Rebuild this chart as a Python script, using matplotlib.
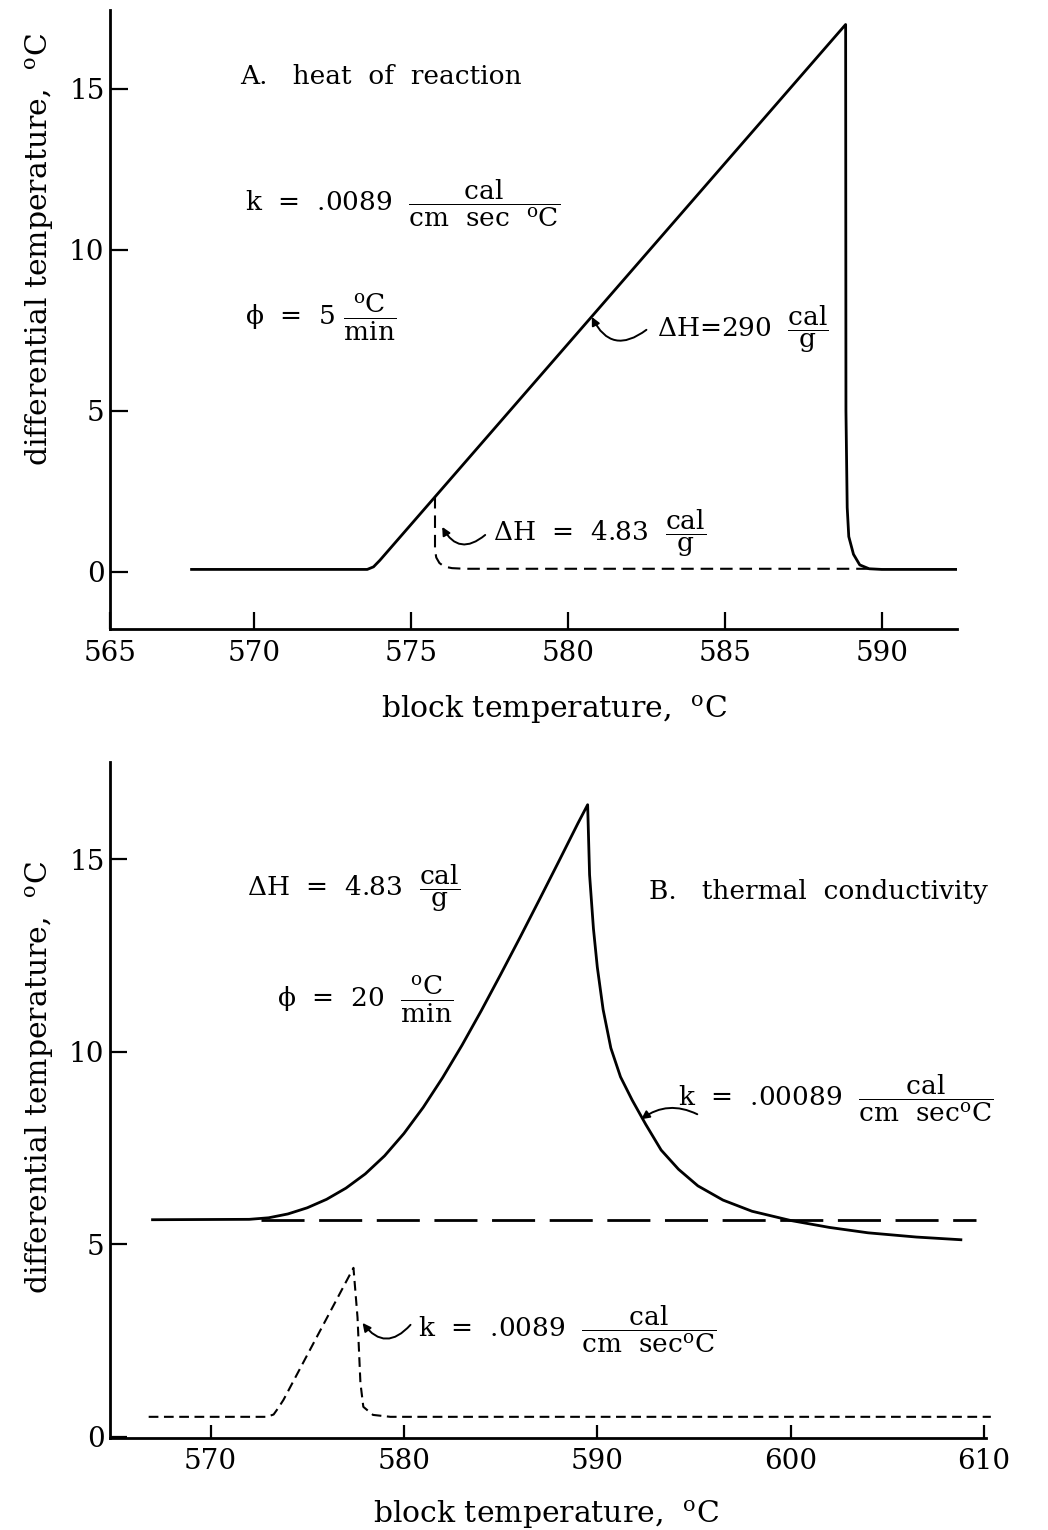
import matplotlib
matplotlib.use('Agg')
import matplotlib.pyplot as plt

plt.rcParams['font.family'] = ['DejaVu Serif']
plt.rcParams['mathtext.fontset'] = 'dejavuserif'
plt.rcParams['lines.scale_dashes'] = False

# ---------------- Panel A: heat of reaction ----------------
a_xticks = [565, 570, 575, 580, 585, 590]
a_yticks = [0, 5, 10, 15]
# Delta H = 290 cal/g (solid)
a_solid_x = [568.0, 573.6, 573.8, 574.0, 588.85, 588.86, 588.9, 588.95, 589.1, 589.3, 589.6, 590.0, 592.4]
a_solid_y = [0.08, 0.08, 0.16, 0.36, 17.0, 5.0, 2.0, 1.1, 0.55, 0.22, 0.1, 0.08, 0.08]
# Delta H = 4.83 cal/g (dashed)
a_dash_x = [575.76, 575.76, 575.8, 575.9, 576.05, 576.3, 576.7, 589.6]
a_dash_y = [2.36, 0.7, 0.45, 0.28, 0.17, 0.12, 0.1, 0.1]

# ---------------- Panel B: thermal conductivity ----------------
b_xticks = [570, 580, 590, 600, 610]
b_yticks = [0, 5, 10, 15]
# k = .00089 (solid)
b_solid_x = [567.0, 572.0, 573.0, 574.0, 575.0, 576.0, 577.0, 578.0, 579.0, 580.0, 581.0,
             582.0, 583.0, 584.0, 585.0, 586.0, 587.0, 588.0, 589.0, 589.5,
             589.6, 589.8, 590.0, 590.3, 590.7, 591.2, 591.8, 592.5, 593.3, 594.2,
             595.2, 596.5, 598.0, 600.0, 602.0, 604.0, 606.5, 608.8]
b_solid_y = [5.64, 5.65, 5.69, 5.79, 5.95, 6.17, 6.46, 6.83, 7.30, 7.88, 8.56,
             9.33, 10.17, 11.07, 12.01, 12.97, 13.95, 14.94, 15.94, 16.42,
             14.6, 13.2, 12.2, 11.1, 10.1, 9.35, 8.75, 8.12, 7.45, 6.95,
             6.52, 6.15, 5.86, 5.62, 5.44, 5.30, 5.19, 5.12]
# baseline (long dashes)
b_base_x = [572.6, 609.6]
b_base_y = [5.64, 5.64]
# k = .0089 (short dashes)
b_dash_x = [566.8, 572.9, 573.26, 573.5, 573.77, 575.5, 577.39, 577.6, 577.75, 577.9, 578.4, 579.3, 610.35]
b_dash_y = [0.52, 0.52, 0.58, 0.75, 0.96, 2.6, 4.39, 3.1, 1.4, 0.78, 0.57, 0.52, 0.52]

W, H = 1048, 1530
fig = plt.figure(figsize=(W / 100, H / 100), dpi=100)

def px_axes(left, top, right, bottom):
    return fig.add_axes([left / W, 1 - bottom / H, (right - left) / W, (bottom - top) / H])

axA = px_axes(110, 10, 957, 629)
axB = px_axes(110, 762, 986, 1438)

deg = r'${}^{\mathrm{o}}$C'
ylabel = 'differential temperature,  ' + deg
xlabel = 'block temperature,  ' + deg
LAB = 21.5
TICK = 20
ANN = 19

def style(ax, xlen, ylen, xpad):
    for s in ['top', 'right']:
        ax.spines[s].set_visible(False)
    for s in ['left', 'bottom']:
        ax.spines[s].set_linewidth(2.0)
    ax.tick_params(axis='x', direction='in', length=xlen, width=1.6, labelsize=TICK, pad=xpad)
    ax.tick_params(axis='y', direction='in', length=ylen, width=1.6, labelsize=TICK, pad=4)

frac_cal_g = r'$\dfrac{\mathrm{cal}}{\mathrm{g}}$'
frac_deg_min = r'$\dfrac{{}^{\mathrm{o}}\mathrm{C}}{\mathrm{min}}$'
frac_k1 = r'$\dfrac{\mathrm{cal}}{\mathrm{cm\ \ sec\ \ }{}^{\mathrm{o}}\mathrm{C}}$'
frac_k2 = r'$\dfrac{\mathrm{cal}}{\mathrm{cm\ \ sec}{}^{\mathrm{o}}\mathrm{C}}$'

# ----- Panel A -----
xminA, xmaxA = 565.4, 592.4
axA.set_xlim(xminA, xmaxA)
axA.set_ylim(-1.77, 17.45)
axA.plot(a_solid_x, a_solid_y, color='black', lw=2.0, solid_joinstyle='round')
axA.plot(a_dash_x, a_dash_y, color='black', lw=1.5, dashes=(9, 5))
axA.set_xticks([xminA] + a_xticks[1:])
axA.set_xticklabels([str(t) for t in a_xticks])
axA.set_yticks(a_yticks)
axA.set_yticklabels([str(t) for t in a_yticks])
style(axA, 12, 13, 8)

axA.set_ylabel(ylabel, fontsize=LAB, rotation=90, ha='center', va='center')
axA.yaxis.set_label_coords(-0.083, 0.614)
axA.set_xlabel(xlabel, fontsize=LAB, ha='center', va='top')
axA.xaxis.set_label_coords(0.524, -0.105)

axA.text(569.55, 15.37, 'A.   heat  of  reaction', fontsize=ANN, ha='left', va='center')
axA.text(569.71, 11.46, 'k  =  .0089  ' + frac_k1, fontsize=ANN, ha='left', va='center')
axA.text(569.71, 7.92, 'ϕ  =  5 ' + frac_deg_min, fontsize=ANN, ha='left', va='center')
axA.text(582.83, 7.52, 'ΔH=290  ' + frac_cal_g, fontsize=ANN, ha='left', va='center')
axA.text(577.6, 1.21, 'ΔH  =  4.83  ' + frac_cal_g, fontsize=ANN, ha='left', va='center')

arrow = dict(arrowstyle='-|>', connectionstyle='arc3,rad=-0.6', lw=1.4, color='black',
             shrinkA=0, shrinkB=0, mutation_scale=12)
axA.annotate('', xy=(580.76, 7.92), xytext=(582.5, 7.52), arrowprops=arrow)
axA.annotate('', xy=(575.99, 1.40), xytext=(577.36, 1.15), arrowprops=arrow)

# ----- Panel B -----
axB.set_xlim(564.8, 610.1)
axB.set_ylim(-0.03, 17.53)
axB.plot(b_solid_x, b_solid_y, color='black', lw=2.0, solid_joinstyle='round')
axB.plot(b_base_x, b_base_y, color='black', lw=2.0, dashes=(31, 10.5))
axB.plot(b_dash_x, b_dash_y, color='black', lw=1.5, dashes=(7, 4), clip_on=False)
axB.set_xticks(b_xticks)
axB.set_xticklabels([str(t) for t in b_xticks])
axB.set_yticks(b_yticks)
axB.set_yticklabels([str(t) for t in b_yticks])
style(axB, 9.5, 12, 7)

axB.set_ylabel(ylabel, fontsize=LAB, rotation=90, ha='center', va='center')
axB.yaxis.set_label_coords(-0.080, 0.533)
axB.set_xlabel(xlabel, fontsize=LAB, ha='center', va='top')
axB.xaxis.set_label_coords(0.498, -0.090)

axB.text(571.9, 14.25, 'ΔH  =  4.83  ' + frac_cal_g, fontsize=ANN, ha='left', va='center')
axB.text(573.46, 11.37, 'ϕ  =  20  ' + frac_deg_min, fontsize=ANN, ha='left', va='center')
axB.text(592.69, 14.17, 'B.   thermal  conductivity', fontsize=ANN, ha='left', va='center')
axB.text(594.19, 8.8, 'k  =  .00089  ' + frac_k2, fontsize=ANN, ha='left', va='center')
axB.text(580.75, 2.80, 'k  =  .0089  ' + frac_k2, fontsize=ANN, ha='left', va='center')
axB.annotate('', xy=(592.27, 8.25), xytext=(595.17, 8.38),
             arrowprops=dict(arrow, connectionstyle='arc3,rad=0.3'))
axB.annotate('', xy=(577.86, 2.96), xytext=(580.34, 2.91), arrowprops=arrow)

fig.savefig('out.png', dpi=100)
